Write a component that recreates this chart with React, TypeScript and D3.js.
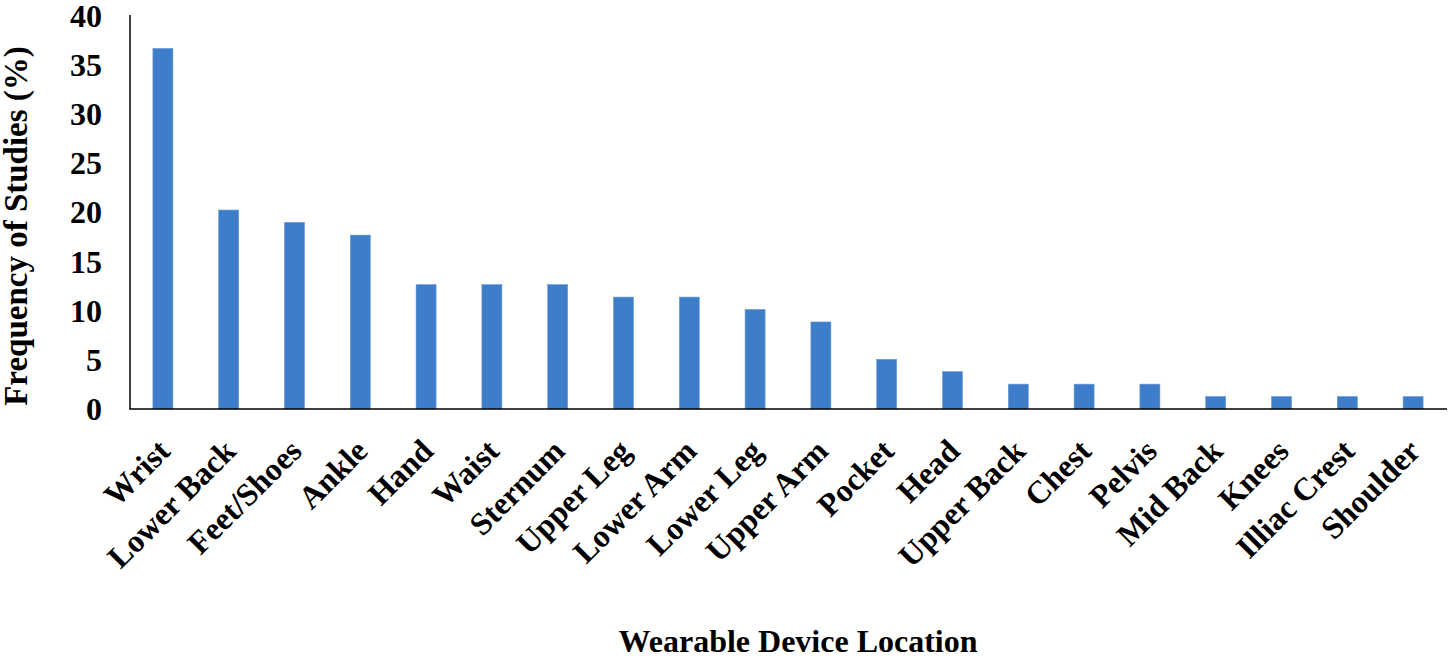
import React from "react";
import * as d3 from "d3";

const categories = ["Wrist","Lower Back","Feet/Shoes","Ankle","Hand","Waist","Sternum","Upper Leg","Lower Arm","Lower Leg","Upper Arm","Pocket","Head","Upper Back","Chest","Pelvis","Mid Back","Knees","Illiac Crest","Shoulder"];
const values = [36.7,20.25,19.0,17.7,12.66,12.66,12.66,11.39,11.39,10.13,8.86,5.06,3.8,2.53,2.53,2.53,1.27,1.27,1.27,1.27];
const yTicks = [0,5,10,15,20,25,30,35,40];

const W = 1450, H = 666;
const FONT = "'Liberation Serif', 'Times New Roman', serif";

export default function App() {
  const x = d3.scaleBand<string>().domain(categories).range([130, 1446]).paddingInner(0.696).paddingOuter(0.348);
  const y = d3.scaleLinear().domain([0, 40]).range([409, 16]);
  return (
    <svg width={W} height={H} style={{ position: "absolute", left: 0, top: 0, background: "#fff" }} fontFamily={FONT}>
      <rect x={0} y={0} width={W} height={H} fill="#fff" />
      {categories.map((c, i) => (
        <rect key={c} x={x(c)} y={y(values[i])} width={x.bandwidth()} height={y(0) - y(values[i])} fill="#3D7DC9" stroke="#6A9BD6" strokeWidth={0.6} />
      ))}
      <line x1={130} x2={130} y1={15} y2={409} stroke="#000" strokeWidth={1.5} />
      <line x1={129.25} x2={1447} y1={409} y2={409} stroke="#000" strokeWidth={1.5} />
      {yTicks.map((t) => (
        <text key={t} x={102} y={y(t)} dy="0.34em" textAnchor="end" fontSize={32} fontWeight="bold" fill="#000">{t}</text>
      ))}
      {categories.map((c) => {
        const cx = (x(c) as number) + x.bandwidth() / 2 + 9;
        const cy = 453;
        return (
          <text key={c} x={cx} y={cy} textAnchor="end" fontSize={32} fontWeight="bold" fill="#000" transform={`rotate(-45 ${cx} ${cy})`}>{c}</text>
        );
      })}
      <text x={798} y={652} textAnchor="middle" fontSize={32} fontWeight="bold" fill="#000">Wearable Device Location</text>
      <text x={0} y={0} textAnchor="middle" fontSize={33} fontWeight="bold" fill="#000" transform={`translate(27 226) rotate(-90)`}>Frequency of Studies (%)</text>
    </svg>
  );
}
